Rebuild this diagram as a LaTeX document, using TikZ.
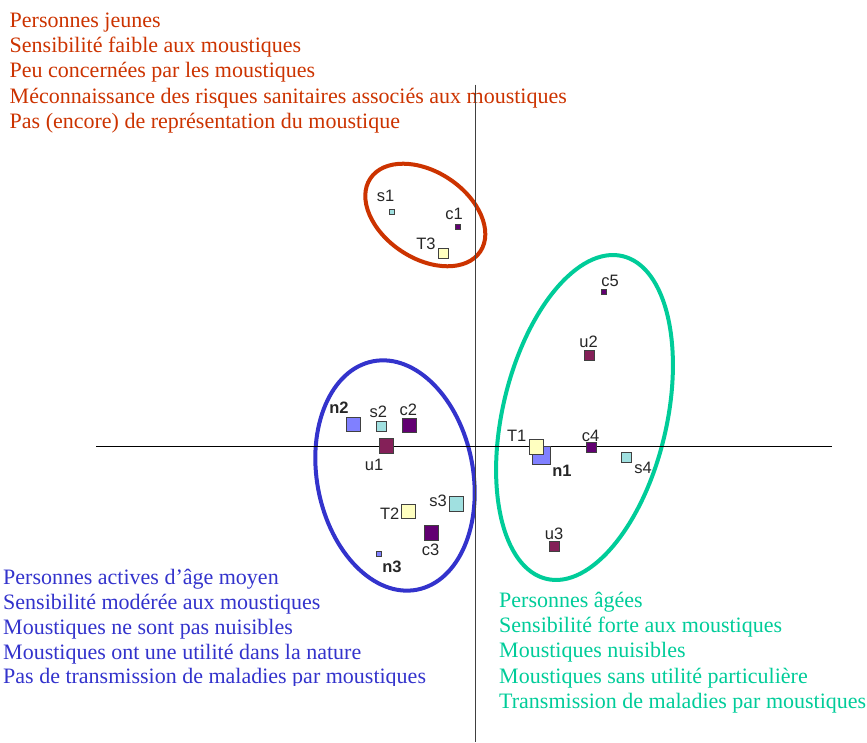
\documentclass[tikz,border=0pt]{standalone}
\usepackage{fontspec}
\setmainfont{Liberation Serif}
\setsansfont{Liberation Sans}
\usepackage{tikz}
\usetikzlibrary{positioning}
\definecolor{jeunes}{HTML}{CC3300}
\definecolor{actifs}{HTML}{3333CC}
\definecolor{ages}{HTML}{00CC99}
\definecolor{tcol}{HTML}{FFFFC0}
\definecolor{scol}{HTML}{A0E0E0}
\definecolor{ccol}{HTML}{620072}
\definecolor{ucol}{HTML}{842058}
\definecolor{ncol}{HTML}{8080FF}

\begin{document}
\begin{tikzpicture}[x=1pt, y=1pt,
    sq/.style={draw=black!75, line width=0.8pt, inner sep=0pt, minimum size=#1},
    lab/.style={anchor=base, inner sep=0pt, font=\sffamily\fontsize{16.5pt}{18pt}\selectfont, text=black!85},
    grouptext/.style={anchor=base west, inner sep=0pt, align=left, font=\fontsize{22pt}{25.3pt}\selectfont},
    group/.style={line width=4pt}
]
    \useasboundingbox (0,0) rectangle (867,742);

    % Group descriptions (anchored on the last line)
    \node[grouptext, text=jeunes] (txtjeunes) at (9.5,613.5) {Personnes jeunes\\Sensibilité faible aux moustiques\\Peu concernées par les moustiques\\Méconnaissance des risques sanitaires associés aux moustiques\\Pas (encore) de représentation du moustique};
    \begin{scope}
        \clip (0,57) rectangle (470,200);
        \node[grouptext, text=actifs, font=\fontsize{22pt}{24.9pt}\selectfont] (txtactifs) at (3,58.1) {Personnes actives d’âge moyen\\Sensibilité modérée aux moustiques\\Moustiques ne sont pas nuisibles\\Moustiques ont une utilité dans la nature\\Pas de transmission de maladies par moustiques};
    \end{scope}
    \node[grouptext, text=ages] (txtages) at (499,33.6) {Personnes âgées\\Sensibilité forte aux moustiques\\Moustiques nuisibles\\Moustiques sans utilité particulière\\Transmission de maladies par moustiques};

    % Groups
    \draw[group, jeunes] (425.3,527) ellipse [x radius=66, y radius=43.3, rotate=-33.5];
    \draw[group, actifs] (395,266.5) ellipse [x radius=78, y radius=116.3, rotate=10.9];
    \draw[group, ages] (584.5,324.5) ellipse [x radius=82, y radius=165.8, rotate=-13.25];

    % Axes
    \coordinate (axtop) at (475.7,657.3);
    \coordinate (axbot) at (475.7,0);
    \coordinate (axleft) at (96,295.7);
    \coordinate (axright) at (831.7,295.7);
    \draw[black!75, line width=1.4pt] (axtop) -- (axbot);
    \draw[black, line width=1.2pt] (axleft) -- (axright);

    % Modalities
    \node[sq=5, fill=scol] (s1) at (392,530.2) {};
    \node[sq=5, fill=ccol] (c1) at (458,515) {};
    \node[sq=10, fill=tcol] (T3) at (443.3,488.5) {};
    \node[sq=5, fill=ccol] (c5) at (604,450.5) {};
    \node[sq=10, fill=ucol] (u2) at (589,387) {};
    \node[sq=18, fill=ncol] (n1) at (541,286.5) {};
    \node[sq=14.5, fill=tcol] (T1) at (536.5,295) {};
    \node[sq=10, fill=ccol] (c4) at (591,295) {};
    \node[sq=10, fill=scol] (s4) at (626.7,285) {};
    \node[sq=9.5, fill=ucol] (u3) at (554.3,195.7) {};
    \node[sq=14, fill=ncol] (n2) at (353.7,318) {};
    \node[sq=10, fill=scol] (s2) at (381.7,315.3) {};
    \node[sq=14.5, fill=ccol] (c2) at (409.3,316.7) {};
    \node[sq=14.5, fill=ucol] (u1) at (386.3,296) {};
    \node[sq=14.5, fill=scol] (s3) at (456.2,238.2) {};
    \node[sq=14, fill=tcol] (T2) at (408,230.5) {};
    \node[sq=14.3, fill=ccol] (c3) at (431.5,209.2) {};
    \node[sq=5, fill=ncol] (n3) at (379.3,188.2) {};

    % Labels
    \node[lab] (s1lab) at (385.5,540) {s1};
    \node[lab] (c1lab) at (454.2,522) {c1};
    \node[lab] (T3lab) at (426,492) {T3};
    \node[lab] (c5lab) at (610,455) {c5};
    \node[lab] (u2lab) at (588.5,394.3) {u2};
    \node[lab] (T1lab) at (516.7,300.3) {T1};
    \node[lab] (c4lab) at (590.5,300.3) {c4};
    \node[lab] (n1lab) at (562,265.3) {\textbf{n1}};
    \node[lab] (s4lab) at (643,268.7) {s4};
    \node[lab] (u3lab) at (554,202) {u3};
    \node[lab] (n2lab) at (339,328) {\textbf{n2}};
    \node[lab] (s2lab) at (378.3,324.7) {s2};
    \node[lab] (c2lab) at (408.3,326.3) {c2};
    \node[lab] (u1lab) at (374,271.3) {u1};
    \node[lab] (s3lab) at (438,235.3) {s3};
    \node[lab] (T2lab) at (389.7,222.7) {T2};
    \node[lab] (c3lab) at (430.5,186.3) {c3};
    \node[lab] (n3lab) at (392,169.3) {\textbf{n3}};
\end{tikzpicture}
\end{document}
